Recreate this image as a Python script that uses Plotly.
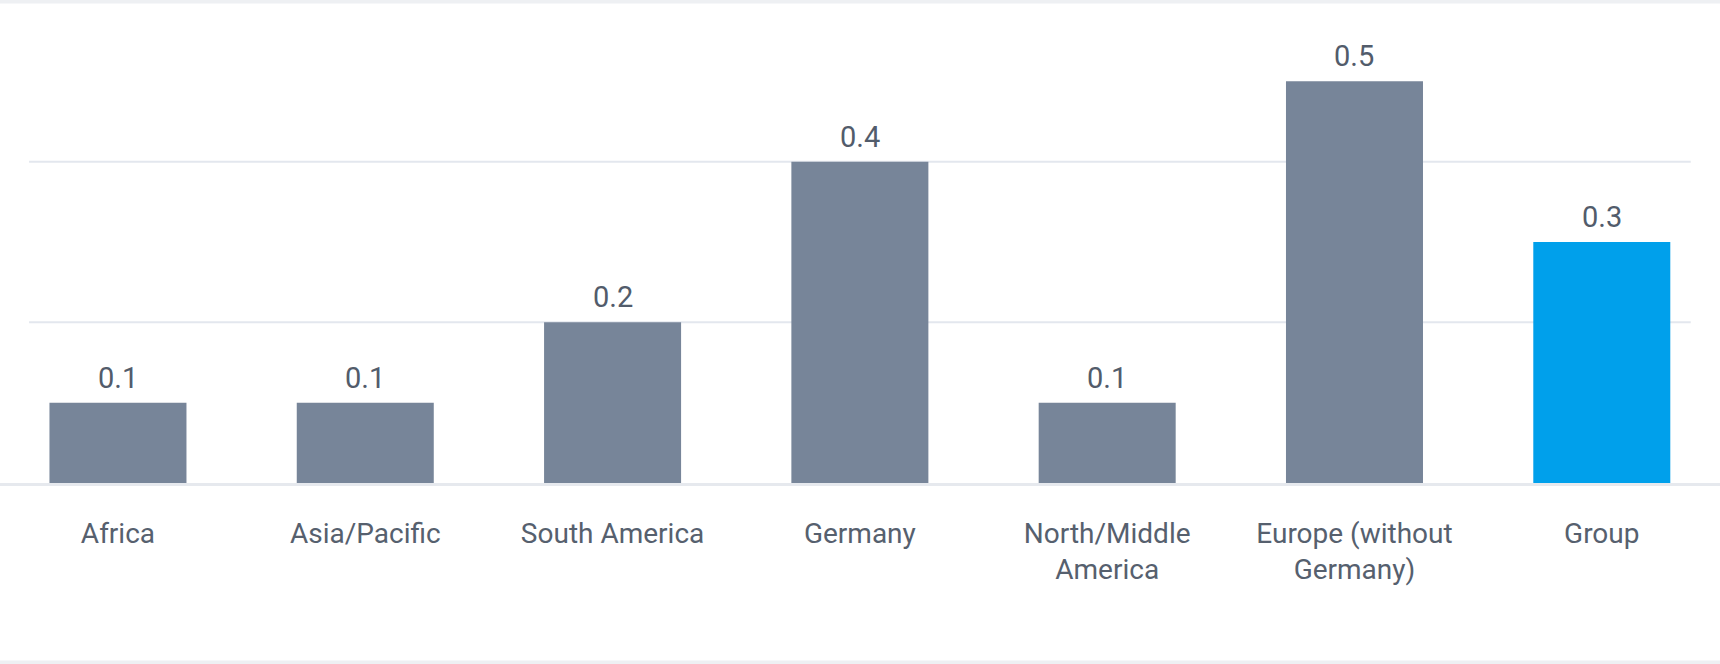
import plotly.graph_objects as go

regions = ["Africa", "Asia/Pacific", "South America", "Germany",
           "North/Middle<br>America", "Europe (without<br>Germany)", "Group"]
values = [0.1, 0.1, 0.2, 0.4, 0.1, 0.5, 0.3]
bar_colors = ["#778599"] * 6 + ["#00a0eb"]
grid_values = [0.2, 0.4]

fig = go.Figure(
    data=[go.Bar(x=regions, y=values, marker_color=bar_colors,
                 marker_line_width=0, hoverinfo="skip")]
)

# value labels above the bars
for r, v in zip(regions, values):
    fig.add_annotation(x=r, y=v, text=f"{v:.1f}", showarrow=False,
                       yanchor="bottom", yshift=6,
                       font=dict(family="Roboto", size=29, color="#525c6b"))

# short gridlines (not full width)
for g in grid_values:
    fig.add_shape(type="line", xref="paper", yref="y", x0=0.0169, x1=0.983,
                  y0=g, y1=g, line=dict(color="#e3e7ee", width=2), layer="below")

# light bands at top and bottom of the page
fig.add_shape(type="rect", xref="paper", yref="paper", x0=0, x1=1,
              y0=0.995, y1=1.003, fillcolor="#eef0f3", line_width=0)
fig.add_shape(type="rect", xref="paper", yref="paper", x0=0, x1=1,
              y0=-0.378, y1=-0.3685, fillcolor="#eef0f3", line_width=0)

fig.update_layout(
    width=1720, height=664,
    margin=dict(l=0, r=0, t=1, b=181),
    paper_bgcolor="white", plot_bgcolor="white",
    bargap=0.446, showlegend=False,
    font=dict(family="Roboto", size=28, color="#56606e"),
)
fig.update_xaxes(range=[-0.477, 6.478], showgrid=False, showline=True,
                 linecolor="#e6e9ee", linewidth=3, ticks="",
                 ticklabelstandoff=23, tickfont=dict(size=28, color="#56606e"))
fig.update_yaxes(range=[0, 0.6], showgrid=False, zeroline=False,
                 showticklabels=False)

fig.write_html("out.html", config={"displayModeBar": False},
               post_script="document.body.style.margin='0';")
